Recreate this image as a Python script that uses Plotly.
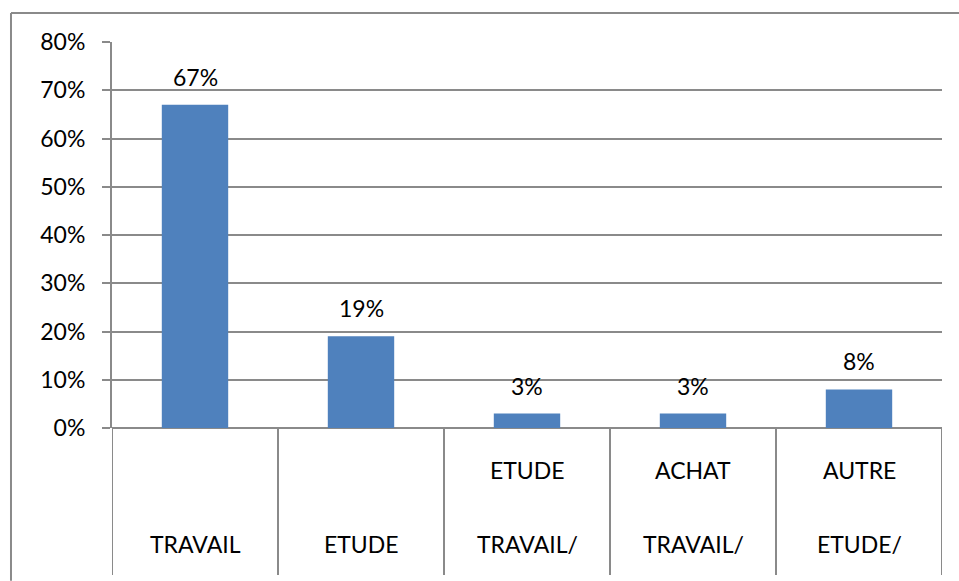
import plotly.graph_objects as go

# data
label_top = ["", "", "ETUDE", "ACHAT", "AUTRE"]
label_bottom = ["TRAVAIL", "ETUDE", "TRAVAIL/", "TRAVAIL/", "ETUDE/"]
shares = [0.67, 0.19, 0.03, 0.03, 0.08]
y_ticks = [0, 0.1, 0.2, 0.3, 0.4, 0.5, 0.6, 0.7, 0.8]

FONT = "Lato"
FSIZE = 23
GREY = "#8a8a8a"
BLUE = "#4f81bd"

xs = list(range(len(shares)))

fig = go.Figure()
fig.add_trace(go.Bar(
    x=xs, y=shares, width=0.4,
    marker=dict(color=BLUE, line=dict(width=0)),
    hoverinfo="skip",
))

# value labels above the bars
for x, v in zip(xs, shares):
    fig.add_annotation(
        x=x, y=v, text=f"{round(v * 100)}%", showarrow=False,
        yanchor="bottom", yshift=12,
        font=dict(family=FONT, size=FSIZE, color="black"),
    )

# category labels in the table area under the axis
for x, top, bot in zip(xs, label_top, label_bottom):
    if top:
        fig.add_annotation(
            x=x, y=-0.109, yref="paper", text=top, showarrow=False,
            yanchor="middle", font=dict(family=FONT, size=FSIZE, color="black"),
        )
    fig.add_annotation(
        x=x, y=-0.3, yref="paper", text=bot, showarrow=False,
        yanchor="middle", font=dict(family=FONT, size=FSIZE, color="black"),
    )

# vertical dividers between categories
for b in [i - 0.5 for i in range(len(shares) + 1)]:
    fig.add_shape(
        type="line", xref="x", yref="paper",
        x0=b, x1=b, y0=0, y1=-0.381,
        line=dict(color=GREY, width=2),
    )

# outer chart border (top and left), kept inside the figure
fig.add_shape(type="line", xref="paper", yref="paper",
              x0=-0.1217, x1=1.0205, y0=1.0751, y1=1.0751,
              line=dict(color=GREY, width=2))
fig.add_shape(type="line", xref="paper", yref="paper",
              x0=-0.1217, x1=-0.1217, y0=1.0751, y1=-0.396,
              line=dict(color=GREY, width=2))

fig.update_layout(
    width=959, height=581,
    margin=dict(l=112, r=17, t=42, b=153),
    paper_bgcolor="white", plot_bgcolor="white",
    showlegend=False,
    font=dict(family=FONT, size=FSIZE, color="black"),
)
fig.update_xaxes(
    range=[-0.5, len(shares) - 0.5],
    showticklabels=False, showgrid=False, zeroline=False,
    showline=False, ticks="",
)
fig.update_yaxes(
    range=[0, 0.8], tickvals=y_ticks, tickformat=".0%",
    showgrid=True, gridcolor=GREY, gridwidth=2,
    zeroline=True, zerolinecolor=GREY, zerolinewidth=2,
    showline=True, linecolor=GREY, linewidth=2,
    ticks="outside", ticklen=8, tickcolor=GREY, tickwidth=2,
    ticklabelstandoff=12,
    tickfont=dict(family=FONT, size=FSIZE, color="black"),
)

# drop the default page margin so the figure fills the window exactly
fig.write_html(
    "out.html",
    config={"displayModeBar": False},
    post_script="document.body.style.margin='0';document.body.style.overflow='hidden';",
)
